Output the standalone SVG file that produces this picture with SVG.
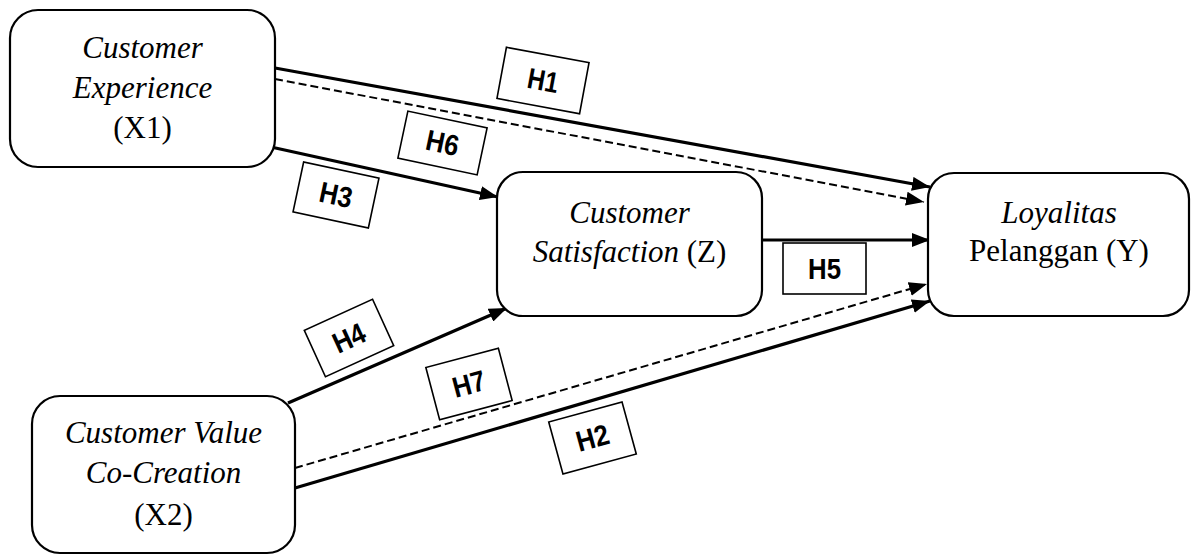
<svg xmlns="http://www.w3.org/2000/svg" width="1192" height="555" viewBox="0 0 1192 555">
  <style>
    .node { fill: #ffffff; stroke: #000000; stroke-width: 2.2; }
    .lbl { font-family: "Liberation Serif", "Times New Roman", serif; font-size: 31px; fill: #000000; text-anchor: middle; }
    .it { font-style: italic; }
    .solid { stroke: #000000; stroke-width: 3.2; fill: none; }
    .dash { stroke: #000000; stroke-width: 2; fill: none; stroke-dasharray: 8 4; }
    .hbox { fill: #ffffff; stroke: #000000; stroke-width: 1.6; }
    .htxt { font-family: "Liberation Sans", Arial, sans-serif; font-weight: bold; font-size: 29px; fill: #000000; text-anchor: middle; }
  </style>
  <defs>
    <marker id="arrow" markerUnits="userSpaceOnUse" markerWidth="18" markerHeight="14" viewBox="0 0 18 14" refX="18" refY="7" orient="auto">
      <path d="M0,0 L18,7 L0,14 Z" fill="#000000"/>
    </marker>
  </defs>
  <rect width="1192" height="555" fill="#ffffff"/>

  <!-- paths between constructs -->
  <g id="connectors">
    <line id="c-h1" class="solid" x1="275" y1="68" x2="930" y2="187" marker-end="url(#arrow)"/>
    <line id="c-h6" class="dash" x1="275" y1="79" x2="924" y2="202" marker-end="url(#arrow)"/>
    <line id="c-h3" class="solid" x1="271" y1="147" x2="498" y2="197" marker-end="url(#arrow)"/>
    <line id="c-h5" class="solid" x1="762" y1="240" x2="930" y2="240" marker-end="url(#arrow)"/>
    <line id="c-h4" class="solid" x1="288" y1="403" x2="507" y2="308" marker-end="url(#arrow)"/>
    <line id="c-h7" class="dash" x1="295" y1="468" x2="927" y2="284" marker-end="url(#arrow)"/>
    <line id="c-h2" class="solid" x1="295" y1="488" x2="930" y2="301" marker-end="url(#arrow)"/>
  </g>

  <!-- hypothesis tags -->
  <g id="tag-h1" transform="translate(543,80.5) rotate(10.5)">
    <rect class="hbox" x="-42" y="-26" width="84" height="52"/>
    <text class="htxt" x="0" y="10" textLength="31" lengthAdjust="spacingAndGlyphs">H1</text>
  </g>
  <g id="tag-h6" transform="translate(442.5,143) rotate(12)">
    <rect class="hbox" x="-40.5" y="-24" width="81" height="48"/>
    <text class="htxt" x="0" y="10" textLength="33" lengthAdjust="spacingAndGlyphs">H6</text>
  </g>
  <g id="tag-h3" transform="translate(336,195) rotate(12)">
    <rect class="hbox" x="-38.5" y="-25.5" width="77" height="51"/>
    <text class="htxt" x="0" y="10" textLength="33" lengthAdjust="spacingAndGlyphs">H3</text>
  </g>
  <g id="tag-h5">
    <rect class="hbox" x="783" y="243" width="83" height="51"/>
    <text class="htxt" x="824.5" y="279" textLength="33" lengthAdjust="spacingAndGlyphs">H5</text>
  </g>
  <g id="tag-h4" transform="translate(349,338) rotate(-24.5)">
    <rect class="hbox" x="-37.5" y="-25.5" width="75" height="51"/>
    <text class="htxt" x="0" y="10" textLength="33" lengthAdjust="spacingAndGlyphs">H4</text>
  </g>
  <g id="tag-h7" transform="translate(469,384) rotate(-14.8)">
    <rect class="hbox" x="-37.5" y="-27" width="75" height="54"/>
    <text class="htxt" x="0" y="10" textLength="33" lengthAdjust="spacingAndGlyphs">H7</text>
  </g>
  <g id="tag-h2" transform="translate(592.5,438) rotate(-15.3)">
    <rect class="hbox" x="-38" y="-27" width="76" height="54"/>
    <text class="htxt" x="0" y="10" textLength="33" lengthAdjust="spacingAndGlyphs">H2</text>
  </g>

  <!-- constructs -->
  <g id="node-x1">
    <rect class="node" x="10" y="10" width="265" height="157" rx="28" ry="28"/>
    <text class="lbl it" x="142.5" y="58">Customer</text>
    <text class="lbl it" x="142.5" y="98">Experience</text>
    <text class="lbl" x="142.5" y="138">(X1)</text>
  </g>
  <g id="node-z">
    <rect class="node" x="497" y="172" width="265" height="144" rx="26" ry="26"/>
    <text class="lbl it" x="629.5" y="223">Customer</text>
    <text class="lbl" x="629.5" y="262"><tspan class="it">Satisfaction</tspan> (Z)</text>
  </g>
  <g id="node-y">
    <rect class="node" x="928" y="173" width="261" height="143" rx="26" ry="26"/>
    <text class="lbl it" x="1059" y="223">Loyalitas</text>
    <text class="lbl" x="1059" y="261">Pelanggan (Y)</text>
  </g>
  <g id="node-x2">
    <rect class="node" x="32" y="396" width="263" height="157" rx="28" ry="28"/>
    <text class="lbl it" x="163.5" y="443">Customer Value</text>
    <text class="lbl it" x="163.5" y="483">Co-Creation</text>
    <text class="lbl" x="163.5" y="525">(X2)</text>
  </g>
</svg>
